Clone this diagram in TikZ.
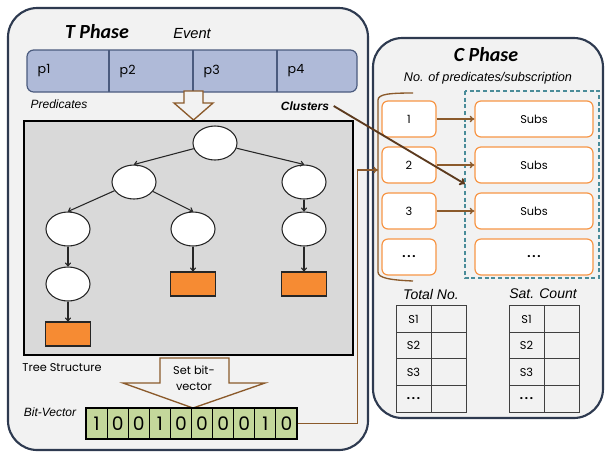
\documentclass[tikz,border=0pt]{standalone}
\usepackage{fontspec}
\setmainfont{Liberation Sans}
\newfontfamily\gothic{Poppins}
\newfontfamily\calib{Carlito}
\usetikzlibrary{arrows.meta,shapes.geometric}

\definecolor{panelfill}{HTML}{F2F2F2}
\definecolor{panelline}{HTML}{2E3A50}
\definecolor{eventfill}{HTML}{AFBAD8}
\definecolor{eventline}{HTML}{4B5B7E}
\definecolor{brownline}{HTML}{8B5A2B}
\definecolor{darkbrown}{HTML}{5C3A1E}
\definecolor{clusterline}{HTML}{F79646}
\definecolor{leaffill}{HTML}{F68B33}
\definecolor{bitfill}{HTML}{C4D79B}
\definecolor{dashline}{HTML}{4A8C99}
\definecolor{treebg}{HTML}{D9D9D9}

\tikzset{
  panel/.style={draw=panelline, line width=1.6pt, fill=panelfill, rounded corners=22pt},
  title/.style={font=\calib\bfseries\itshape\fontsize{15}{17}\selectfont},
  caption/.style={font=\itshape\fontsize{9}{11}\selectfont},
  treenode/.style={ellipse, draw=black!85, line width=0.8pt, fill=white,
    minimum width=33pt, minimum height=25.5pt, inner sep=0pt},
  leaf/.style={rectangle, draw=black!85, line width=0.8pt, fill=leaffill,
    minimum width=33.75pt, minimum height=18pt, inner sep=0pt},
  treeedge/.style={-{To[length=3pt,width=4.5pt]}, line width=0.8pt, black!85},
  brownarrow/.style={-{To[length=3.5pt,width=5pt]}, line width=1pt, brownline},
  cluster/.style={rectangle, draw=clusterline, line width=0.9pt, fill=white,
    rounded corners=4.5pt, minimum height=27pt, inner sep=0pt,
    font=\gothic\fontsize{8.5}{10}\selectfont},
  bitcell/.style={rectangle, draw=black, line width=0.8pt, fill=bitfill,
    minimum width=15.83pt, minimum height=23.25pt, inner sep=0pt,
    font=\gothic\fontsize{14}{16}\selectfont},
  tcell/.style={rectangle, draw=black!75, line width=0.7pt,
    minimum width=26.25pt, minimum height=19.9pt, inner sep=0pt,
    font=\gothic\fontsize{8.5}{10}\selectfont},
}

\begin{document}
\begin{tikzpicture}[x=0.75pt, y=-0.75pt]
\useasboundingbox (0,0) rectangle (606,455);

% ---------- T phase ----------
\path[panel] (8,8) rectangle (368,450);
\node[title, anchor=center] (tphase) at (97,32) {T Phase};
\node[font=\itshape\fontsize{11}{13}\selectfont] (event) at (192,34) {Event};

% event bar with four predicates
\draw[draw=eventline, line width=0.9pt, fill=eventfill, rounded corners=5pt]
  (27,50) rectangle (357,92);
\foreach \x in {109,193,277} \draw[eventline, line width=0.9pt] (\x,50) -- (\x,92);
\foreach \i/\x in {1/27,2/109,3/193,4/277}
  \node[anchor=west, font=\gothic\fontsize{9.5}{11}\selectfont] (p\i) at (\x+6,71) {p\i};

\node[caption] (predicates) at (59,104) {Predicates};
\node[font=\bfseries\itshape\fontsize{9}{11}\selectfont] (clusters) at (305,106) {Clusters};

% hollow arrow into the tree
\draw[brownline, line width=1pt, fill=panelfill]
  (184,91) -- (203,91) -- (203,103) -- (213,103) -- (193.5,120) -- (174,103) -- (184,103) -- cycle;

% tree area
\draw[line width=1.4pt, fill=treebg] (24,121) rectangle (353,355);

\node[treenode] (root) at (215,143) {};
\node[treenode] (nl) at (134,182) {};
\node[treenode] (nr) at (304,182) {};
\node[treenode] (nll) at (68,229) {};
\node[treenode] (nlm) at (193,229) {};
\node[treenode] (nrr) at (304,229) {};
\node[treenode] (nlll) at (68,284) {};
\node[leaf] (leafm) at (193,284) {};
\node[leaf] (leafr) at (304,284) {};
\node[leaf] (leafl) at (68,334) {};

\draw[treeedge] (root) -- (nl.north);
\draw[treeedge] (root) -- (nr.north);
\draw[treeedge] (nl) -- (nll.north);
\draw[treeedge] (nl) -- (nlm.north);
\draw[treeedge] (nr) -- (nrr);
\draw[treeedge] (nll) -- (nlll);
\draw[treeedge] (nlll) -- (leafl);
\draw[treeedge] (nlm) -- (leafm);
\draw[treeedge] (nrr) -- (leafr);

\node[font=\gothic\fontsize{8.5}{10}\selectfont] (treelabel) at (62,368) {Tree Structure};

% set bit-vector arrow
\draw[brownline, line width=1pt, fill=panelfill]
  (160,358) -- (229,358) -- (229,383) -- (265,383) -- (193,408) -- (123,383) -- (160,383) -- cycle;
\node[font=\gothic\fontsize{8.5}{10}\selectfont, align=center] (setbv) at (194,378)
  {Set bit-\\[2pt]vector};

% bit-vector
\node[caption] (bvlabel) at (50,412) {Bit-Vector};
\foreach \b [count=\i from 0] in {1,0,0,1,0,0,0,0,1,0}
  \node[bitcell] (b\i) at (96.55+21.1*\i,423.5) {\b};

% ---------- C phase ----------
\path[panel] (373,38) rectangle (603,418);
\node[title] (cphase) at (486,55) {C Phase};
\node[font=\itshape\fontsize{9.5}{11}\selectfont] (npred) at (488,78) {No. of predicates/subscription};

% subscription group
\draw[dashline, line width=0.8pt, dash pattern=on 3pt off 2pt] (465,91) rectangle (599,278);

% bracket around the clusters
\coordinate (bracemid) at (378,170);
\draw[brownline, line width=1pt]
  (413,93) .. controls (390,93) and (378,94) .. (378,100) -- (378,272)
  .. controls (378,278) and (390,280) .. (413,281);

\foreach \i/\y/\t in {1/119/1,2/165/2,3/211/3}{
  \node[cluster, minimum width=40.5pt] (c\i) at (409,\y) {\t};
  \node[cluster, minimum width=88.5pt] (s\i) at (534,\y) {Subs};
  \draw[brownarrow] (c\i) -- (s\i);
}
\node[cluster, minimum width=40.5pt] (c4) at (409,257) {\textbf{.\,.\,.}};
\node[cluster, minimum width=88.5pt] (s4) at (534,257) {\textbf{.\,.\,.}};

% connectors from T phase
\coordinate (clustertip) at (465,184);
\draw[-{To[length=4pt,width=6pt]}, line width=1.4pt, darkbrown] (clusters.east) -- (clustertip);
\draw[brownarrow] (b9.east) -- ++(60,0) |- (bracemid);

% count tables
\node[font=\itshape\fontsize{10.5}{12}\selectfont] (totlabel) at (431,294) {Total No.};
\node[font=\itshape\fontsize{10.5}{12}\selectfont] (satlabel) at (543,294) {Sat. Count};
\foreach \t/\x in {a/413.5,b/526.5}{
  \foreach \r/\y/\s in {1/319/S1,2/345.5/S2,3/372/S3,4/399/\textbf{.\,.\,.}}{
    \node[tcell] (\t\r) at (\x,\y) {\s};
    \node[tcell] (\t\r v) at (\x+35,\y) {};
  }
}
\end{tikzpicture}
\end{document}
